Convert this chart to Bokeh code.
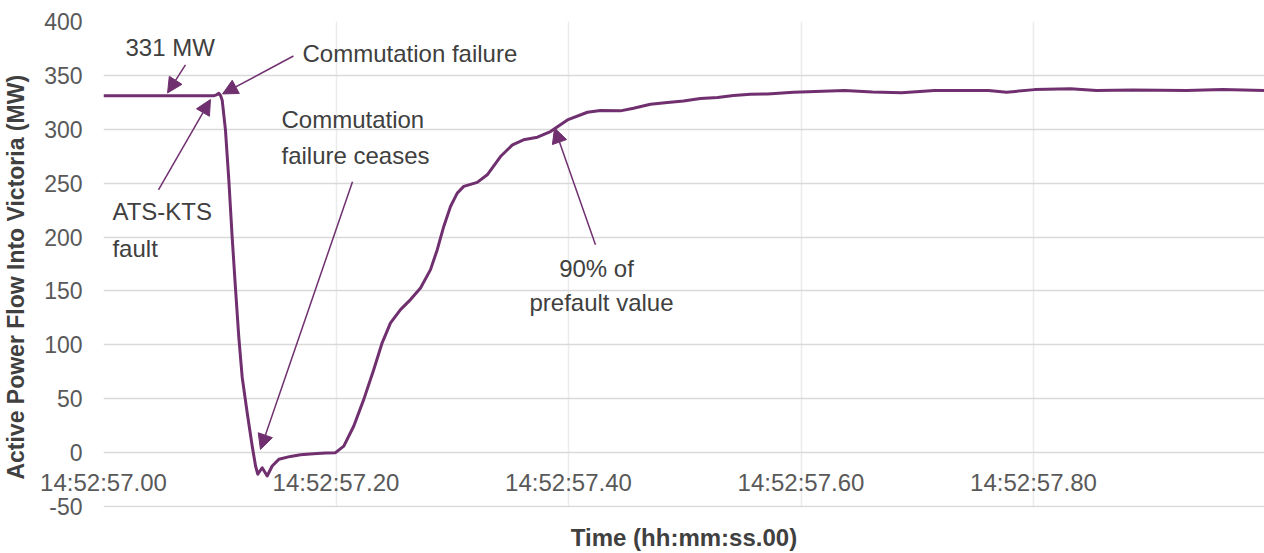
from bokeh.plotting import figure
from bokeh.models import Range1d, FixedTicker, Arrow, NormalHead, ColumnDataSource
from bokeh.core.properties import value
from bokeh.embed import file_html
from bokeh.resources import INLINE

# ---- data (time offset from 14:52:57.00 in seconds, active power in MW) ----
time_s = [0.0, 0.0404, 0.0834, 0.0946, 0.0972, 0.0992, 0.1006, 0.1021, 0.1049, 0.1078,
          0.1107, 0.1135, 0.1164, 0.1193, 0.1236, 0.1279, 0.1308, 0.1327, 0.1365, 0.1408,
          0.1451, 0.1508, 0.1609, 0.1695, 0.1806, 0.191, 0.1996, 0.2067, 0.2153, 0.2239,
          0.2325, 0.2397, 0.2469, 0.2555, 0.2641, 0.2727, 0.2813, 0.2871, 0.2927, 0.2985,
          0.3043, 0.3099, 0.3215, 0.3301, 0.3415, 0.3518, 0.3613, 0.3733, 0.3845, 0.3991,
          0.4163, 0.4275, 0.4447, 0.4559, 0.4705, 0.4852, 0.4989, 0.5135, 0.5282, 0.5419,
          0.5566, 0.5712, 0.5935, 0.6374, 0.6615, 0.6865, 0.7148, 0.7613, 0.7768, 0.8009,
          0.8318, 0.8542, 0.8852, 0.9316, 0.9626, 0.9987]
power_mw = [331, 331, 331, 331, 332, 333.4, 331.5, 327, 299.5, 253,
            199.5, 153, 107, 70, 37, 6.1, -12.4, -20, -14, -21.7,
            -12.4, -6.2, -3.5, -2, -1, -0.3, 0, 6.1, 24.7, 49.4,
            77.2, 101.9, 120.4, 132.7, 142, 152.8, 169.8, 188.3, 209.9, 228.4,
            240.8, 247, 250.7, 257.8, 274.7, 285.6, 290.2, 292.7, 297.9, 308.7,
            315.8, 317.4, 317.1, 319.5, 323.2, 324.8, 326.3, 328.5, 329.4, 331.3,
            332.5, 332.8, 334.4, 335.9, 334.5, 334, 335.9, 335.9, 334.4, 336.8,
            337.5, 335.9, 336.5, 335.9, 336.8, 336]

x_ticks = [0.0, 0.2, 0.4, 0.6, 0.8]
x_tick_labels = ["14:52:57.00", "14:52:57.20", "14:52:57.40", "14:52:57.60", "14:52:57.80"]
y_ticks = [-50, 0, 50, 100, 150, 200, 250, 300, 350, 400]
y_tick_labels = ["-50", "0", "50", "100", "150", "200", "250", "300", "350", "400"]

# annotation texts (label, x, y, align)
note_text = ["331 MW", "Commutation failure", "ATS-KTS", "fault",
             "Commutation", "failure ceases", "90% of", "prefault value"]
note_x = [0.0189, 0.1712, 0.0077, 0.0077, 0.1531, 0.1531, 0.4241, 0.4284]
note_y = [376.3, 369.9, 223.5, 189.2, 308.7, 275.4, 170.7, 139.2]
note_align = ["left", "left", "left", "left", "left", "left", "center", "center"]

# arrows (start -> end, head at end)
arr_x0 = [0.0705, 0.1634, 0.0473, 0.2142, 0.4232]
arr_y0 = [359.7, 368.0, 243.9, 251.3, 192.9]
arr_x1 = [0.0551, 0.1024, 0.0920, 0.1350, 0.3880]
arr_y1 = [333.7, 332.8, 327.6, 3.0, 301.3]

PURPLE = "#70306f"
FONT = "Liberation Sans"

p = figure(width=1264, height=553, output_backend="svg", toolbar_location=None,
           x_range=Range1d(0, 0.9987), y_range=Range1d(-50.9, 400),
           min_border_left=103, min_border_right=0, min_border_top=21, min_border_bottom=46)
p.outline_line_color = None
p.background_fill_color = "white"
p.border_fill_color = "white"

# grids
p.ygrid.ticker = FixedTicker(ticks=y_ticks)
p.ygrid.grid_line_color = "#d9d9d9"
p.ygrid.grid_line_width = 1.5
p.xgrid.ticker = FixedTicker(ticks=x_ticks)
p.xgrid.grid_line_color = "#ebebeb"
p.xgrid.grid_line_width = 1.5

# y axis
p.yaxis.ticker = FixedTicker(ticks=y_ticks)
p.yaxis.major_label_overrides = {t: l for t, l in zip(y_ticks, y_tick_labels)}
p.yaxis.axis_line_color = None
p.yaxis.major_tick_line_color = None
p.yaxis.minor_tick_line_color = None
p.yaxis.major_tick_out = 0
p.yaxis.major_tick_in = 0
p.yaxis.major_label_standoff = 21
p.yaxis.major_label_text_font = FONT
p.yaxis.major_label_text_font_size = "23px"
p.yaxis.major_label_text_color = "#595959"
p.yaxis.axis_label = "Active Power Flow Into Victoria (MW)" + "\u00a0" * 4
p.yaxis.axis_label_text_font = FONT
p.yaxis.axis_label_text_font_size = "23px"
p.yaxis.axis_label_text_font_style = "bold"
p.yaxis.axis_label_text_color = "#404040"
p.yaxis.axis_label_standoff = 12

# x axis (labels drawn next to the zero line, as in the original)
p.xaxis.ticker = FixedTicker(ticks=x_ticks)
p.xaxis.major_label_overrides = {t: l for t, l in zip(x_ticks, x_tick_labels)}
p.xaxis.axis_line_color = None
p.xaxis.major_tick_line_color = None
p.xaxis.minor_tick_line_color = None
p.xaxis.major_tick_out = 0
p.xaxis.major_tick_in = 0
p.xaxis.major_label_standoff = -39
p.xaxis.major_label_text_font = FONT
p.xaxis.major_label_text_font_size = "24px"
p.xaxis.major_label_text_color = "#595959"
p.xaxis.axis_label = "Time (hh:mm:ss.00)"
p.xaxis.axis_label_text_font = FONT
p.xaxis.axis_label_text_font_size = "24px"
p.xaxis.axis_label_text_font_style = "bold"
p.xaxis.axis_label_text_color = "#404040"
p.xaxis.axis_label_standoff = 25

# series
p.line(time_s, power_mw, line_color=PURPLE, line_width=3, line_join="round")

# arrows
arr_src = ColumnDataSource(dict(x0=arr_x0, y0=arr_y0, x1=arr_x1, y1=arr_y1))
p.add_layout(Arrow(source=arr_src, x_start="x0", y_start="y0", x_end="x1", y_end="y1",
                   line_color=PURPLE, line_width=1.5,
                   end=NormalHead(size=15, fill_color=PURPLE, line_color=PURPLE, line_width=1)))

# annotation texts
txt_src = ColumnDataSource(dict(x=note_x, y=note_y, text=note_text, align=note_align))
p.text(x="x", y="y", text="text", source=txt_src, text_align="align", text_baseline="middle",
       text_font=value(FONT), text_font_size="24px", text_color="#404040")

open("out.html", "w").write(file_html(p, INLINE))
